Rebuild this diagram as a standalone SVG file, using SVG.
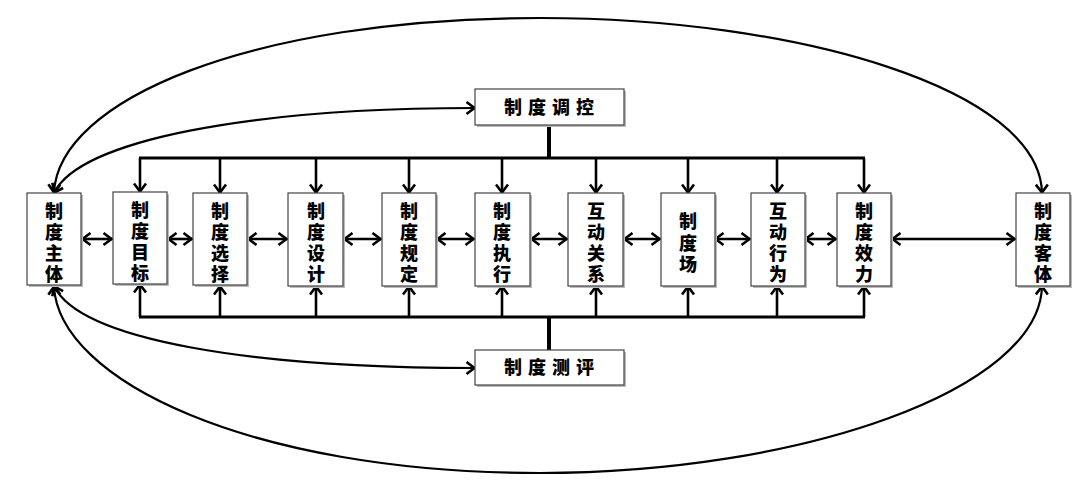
<svg xmlns="http://www.w3.org/2000/svg" width="1080" height="486" viewBox="0 0 1080 486">
<style>
.box{fill:#fff;stroke:#444;stroke-width:1.2}
.sh{fill:#bbb}
.t{font-family:"Noto Sans CJK SC","Noto Sans CJK TC",sans-serif;font-weight:900;font-size:18px;fill:#000;text-anchor:middle}
.c{fill:none;stroke:#000;stroke-width:2.2}
.bus{fill:none;stroke:#000;stroke-width:3}
.da{fill:none;stroke:#000;stroke-width:2.6;marker-start:url(#ah);marker-end:url(#ah)}
.dn{fill:none;stroke:#000;stroke-width:2.6;marker-end:url(#ah)}
</style>
<defs>
<marker id="ah" viewBox="0 0 11 15" refX="10" refY="7.5" markerWidth="11" markerHeight="15" markerUnits="userSpaceOnUse" orient="auto-start-reverse">
<path d="M1.5,1.5 L9.5,7.5 L1.5,13.5" fill="none" stroke="#000" stroke-width="2.6"/>
</marker>
</defs>
<rect width="1080" height="486" fill="#fff"/>
<g id="connectors">
<path class="c" d="M54,193 C58,100 250,18 540,18 C800,18 1040,90 1042,193" marker-start="url(#ah)" marker-end="url(#ah)"/>
<path class="c" d="M54,286 C58,380 250,473 540,473 C800,473 1040,390 1042,286" marker-start="url(#ah)" marker-end="url(#ah)"/>
<path class="c" d="M54,193 C80,140 250,108 475,108" marker-start="url(#ah)" marker-end="url(#ah)"/>
<path class="c" d="M54,286 C80,340 250,368 475,368" marker-start="url(#ah)" marker-end="url(#ah)"/>
<path fill="none" stroke="#000" stroke-width="4" d="M549,125 V158 M549,317 V350"/>
<path class="bus" d="M139,158 H865 M139,317 H865"/>
<line class="dn" x1="140" y1="158" x2="140" y2="192"/>
<line class="dn" x1="220" y1="158" x2="220" y2="193"/>
<line class="dn" x1="316" y1="158" x2="316" y2="193"/>
<line class="dn" x1="409" y1="158" x2="409" y2="193"/>
<line class="dn" x1="502" y1="158" x2="502" y2="193"/>
<line class="dn" x1="596" y1="158" x2="596" y2="193"/>
<line class="dn" x1="688" y1="158" x2="688" y2="193"/>
<line class="dn" x1="777" y1="158" x2="777" y2="193"/>
<line class="dn" x1="864" y1="158" x2="864" y2="193"/>
<line class="dn" x1="140" y1="317" x2="140" y2="284"/>
<line class="dn" x1="220" y1="317" x2="220" y2="286"/>
<line class="dn" x1="316" y1="317" x2="316" y2="286"/>
<line class="dn" x1="409" y1="317" x2="409" y2="286"/>
<line class="dn" x1="502" y1="317" x2="502" y2="286"/>
<line class="dn" x1="596" y1="317" x2="596" y2="286"/>
<line class="dn" x1="688" y1="317" x2="688" y2="286"/>
<line class="dn" x1="777" y1="317" x2="777" y2="286"/>
<line class="dn" x1="864" y1="317" x2="864" y2="286"/>
<path class="da" d="M82,239 H112"/>
<path class="da" d="M168,239 H192"/>
<path class="da" d="M248,239 H287"/>
<path class="da" d="M344,239 H381"/>
<path class="da" d="M437,239 H474"/>
<path class="da" d="M531,239 H567"/>
<path class="da" d="M624,239 H660"/>
<path class="da" d="M715,239 H750"/>
<path class="da" d="M805,239 H836"/>
<path class="da" d="M892,239 H1015"/>
</g>
<g id="n-zhuti"><rect class="sh" x="29" y="195" width="54" height="92"/><rect class="box" x="27" y="193" width="54" height="92"/>
<text class="t" x="54" y="218">制</text><text class="t" x="54" y="239">度</text><text class="t" x="54" y="260">主</text><text class="t" x="54" y="281">体</text></g>
<g id="n-mubiao"><rect class="sh" x="115" y="194" width="54" height="92"/><rect class="box" x="113" y="192" width="54" height="92"/>
<text class="t" x="140" y="217">制</text><text class="t" x="140" y="238">度</text><text class="t" x="140" y="259">目</text><text class="t" x="140" y="280">标</text></g>
<g id="n-xuanze"><rect class="sh" x="195" y="195" width="54" height="92"/><rect class="box" x="193" y="193" width="54" height="92"/>
<text class="t" x="220" y="218">制</text><text class="t" x="220" y="239">度</text><text class="t" x="220" y="260">选</text><text class="t" x="220" y="281">择</text></g>
<g id="n-sheji"><rect class="sh" x="290" y="195" width="55" height="93"/><rect class="box" x="288" y="193" width="55" height="93"/>
<text class="t" x="316" y="218">制</text><text class="t" x="316" y="239">度</text><text class="t" x="316" y="260">设</text><text class="t" x="316" y="281">计</text></g>
<g id="n-guiding"><rect class="sh" x="384" y="195" width="54" height="93"/><rect class="box" x="382" y="193" width="54" height="93"/>
<text class="t" x="409" y="218">制</text><text class="t" x="409" y="239">度</text><text class="t" x="409" y="260">规</text><text class="t" x="409" y="281">定</text></g>
<g id="n-zhixing"><rect class="sh" x="477" y="195" width="55" height="93"/><rect class="box" x="475" y="193" width="55" height="93"/>
<text class="t" x="502" y="218">制</text><text class="t" x="502" y="239">度</text><text class="t" x="502" y="260">执</text><text class="t" x="502" y="281">行</text></g>
<g id="n-guanxi"><rect class="sh" x="570" y="195" width="55" height="93"/><rect class="box" x="568" y="193" width="55" height="93"/>
<text class="t" x="596" y="218">互</text><text class="t" x="596" y="239">动</text><text class="t" x="596" y="260">关</text><text class="t" x="596" y="281">系</text></g>
<g id="n-changyu"><rect class="sh" x="663" y="195" width="54" height="93"/><rect class="box" x="661" y="193" width="54" height="93"/>
<text class="t" x="688" y="228">制</text><text class="t" x="688" y="250">度</text><text class="t" x="688" y="271">场</text></g>
<g id="n-xingwei"><rect class="sh" x="753" y="195" width="54" height="93"/><rect class="box" x="751" y="193" width="54" height="93"/>
<text class="t" x="778" y="218">互</text><text class="t" x="778" y="239">动</text><text class="t" x="778" y="260">行</text><text class="t" x="778" y="281">为</text></g>
<g id="n-xiaoli"><rect class="sh" x="839" y="195" width="54" height="93"/><rect class="box" x="837" y="193" width="54" height="93"/>
<text class="t" x="864" y="218">制</text><text class="t" x="864" y="239">度</text><text class="t" x="864" y="260">效</text><text class="t" x="864" y="281">力</text></g>
<g id="n-keti"><rect class="sh" x="1018" y="195" width="54" height="93"/><rect class="box" x="1016" y="193" width="54" height="93"/>
<text class="t" x="1043" y="218">制</text><text class="t" x="1043" y="239">度</text><text class="t" x="1043" y="260">客</text><text class="t" x="1043" y="281">体</text></g>
<g id="n-tiaokong"><rect class="sh" x="477" y="91" width="149" height="36"/><rect class="box" x="475" y="89" width="149" height="36"/>
<text class="t" x="552" y="114" letter-spacing="6">制度调控</text></g>
<g id="n-ceping"><rect class="sh" x="477" y="352" width="149" height="35"/><rect class="box" x="475" y="350" width="149" height="35"/>
<text class="t" x="552" y="374" letter-spacing="6">制度测评</text></g>
</svg>
